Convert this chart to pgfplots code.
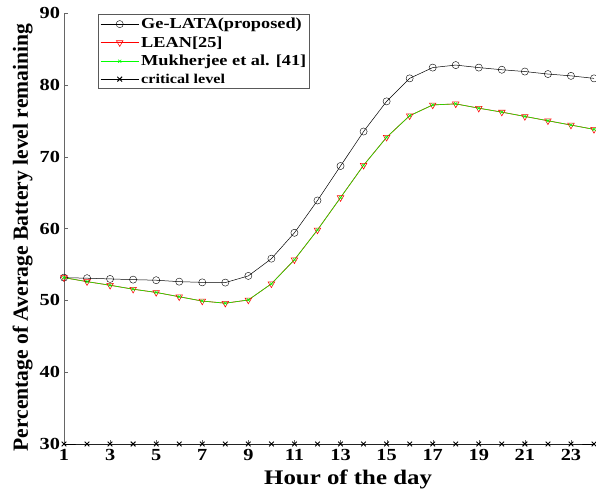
\documentclass[border=0pt]{standalone}
\usepackage{fontspec}
\setmainfont{Liberation Serif}[FakeStretch=1.2]
\newfontfamily\ylabfont{Liberation Serif}
\usepackage{pgfplots}
\pgfplotsset{compat=1.18}
\definecolor{mgreen}{rgb}{0,1,0}
\begin{document}
\begin{tikzpicture}
\begin{axis}[
  at={(0,0)}, anchor=south west,
  scale only axis, width=530bp, height=431bp,
  xmin=1, xmax=24, ymin=30, ymax=90,
  axis x line*=bottom, axis y line*=left,
  axis line style={black!60, line width=0.6pt},
  xtick={1,3,...,23}, ytick={30,40,...,90},
  tick align=inside, major tick length=4bp,
  tick style={black!60},
  /pgf/number format/assume math mode=true,
  tick label style={font=\fontsize{17}{18}\selectfont\bfseries},
  xticklabel style={yshift=-1.5pt},
  yticklabel style={xshift=-0.5pt},
  xlabel={Hour of the day},
  ylabel={\ylabfont Percentage of Average Battery level remaining},
  xlabel style={font=\fontsize{20.8}{22}\selectfont\bfseries, at={(axis description cs:0.536,-0.0951)}, anchor=base},
  ylabel style={font=\fontsize{21.7}{23}\selectfont\bfseries, at={(axis description cs:-0.068,0.479)}, anchor=base},
  clip=false,
  legend cell align=left,
  legend style={at={(axis description cs:0.065,0.997)}, anchor=north west,
    draw=black!65, line width=0.6pt, font=\fontsize{15.3}{16}\selectfont\bfseries,
    inner sep=1.5pt, row sep=2.5pt},
  legend image code/.code={\draw[mark repeat=2,mark phase=2] plot coordinates {(0cm,0cm) (0.67cm,0cm) (1.34cm,0cm)};},
]
\addplot[black, line width=0.5pt, mark=o, mark size=3.6pt, mark options={line width=0.4pt}] coordinates {
(1,53.16) (2,53.08) (3,52.98) (4,52.88) (5,52.8) (6,52.6) (7,52.5) (8,52.47)
(9,53.4) (10,55.8) (11,59.4) (12,63.9) (13,68.7) (14,73.5) (15,77.7) (16,80.9)
(17,82.4) (18,82.75) (19,82.4) (20,82.1) (21,81.85) (22,81.5) (23,81.25) (24,80.9)};
\addlegendentry{Ge-LATA(proposed)}
\addplot[red, line width=0.7pt, mark=triangle, mark size=3.8pt, mark options={rotate=180, line width=0.55pt, fill=none}] coordinates {
(1,53.16) (2,52.6) (3,52.1) (4,51.55) (5,51.1) (6,50.5) (7,49.9) (8,49.6)
(9,50.05) (10,52.3) (11,55.65) (12,59.8) (13,64.3) (14,68.8) (15,72.7) (16,75.7)
(17,77.2) (18,77.35) (19,76.75) (20,76.2) (21,75.6) (22,75.0) (23,74.4) (24,73.8)};
\addlegendentry{LEAN[25]}
\addplot[mgreen, line width=0.55pt, mark=x, mark size=2.2pt, mark options={line width=0.55pt}] coordinates {
(1,53.16) (2,52.6) (3,52.1) (4,51.55) (5,51.1) (6,50.5) (7,49.9) (8,49.6)
(9,50.05) (10,52.3) (11,55.65) (12,59.8) (13,64.3) (14,68.8) (15,72.7) (16,75.7)
(17,77.2) (18,77.35) (19,76.75) (20,76.2) (21,75.6) (22,75.0) (23,74.4) (24,73.8)};
\addlegendentry{Mukherjee et al. [41]}
\addplot[black, line width=1pt, mark=x, mark size=3.3pt, mark options={line width=0.9pt}] coordinates {
(1,30) (2,30) (3,30) (4,30) (5,30) (6,30) (7,30) (8,30) (9,30) (10,30) (11,30) (12,30)
(13,30) (14,30) (15,30) (16,30) (17,30) (18,30) (19,30) (20,30) (21,30) (22,30) (23,30) (24,30)};
\addlegendentry{\fontsize{13.5}{14}\selectfont critical level}
\end{axis}
\pgfresetboundingbox
\path[use as bounding box] (-64bp,-48bp) rectangle (532bp,444bp);
\end{tikzpicture}
\end{document}
